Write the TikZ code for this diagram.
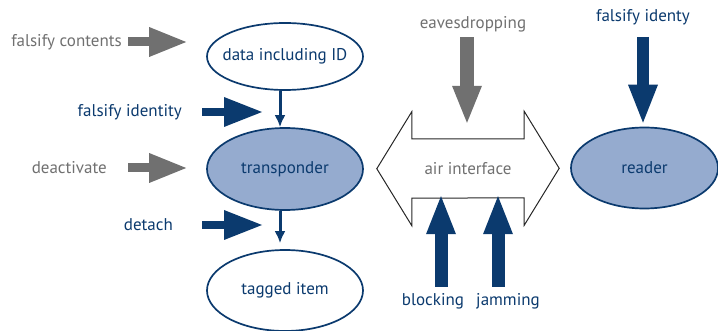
\documentclass[tikz,border=0pt]{standalone}
\usepackage{fontspec}
\setmainfont{PT Sans}
\usetikzlibrary{shapes}
\usetikzlibrary{positioning}
\usetikzlibrary{arrows.meta}
\definecolor{navy}{HTML}{0B3A6E}
\definecolor{greyc}{HTML}{707070}
\definecolor{fillb}{HTML}{95ABCF}
\tikzset{
    mynode/.style = {ellipse, line width=1.7pt, draw=navy, fill=white, text=navy, inner xsep=-20pt, minimum width=156pt, minimum height=67pt},
    mynodeb/.style = {mynode, fill=fillb, minimum height=82pt},
    txtg/.style = {text=greyc, inner sep=0pt},
    txtb/.style = {text=navy, inner sep=0pt},
    edgen/.style = {-{Latex[length=12pt,width=11pt]}, line width=3pt, navy},
    edgeg/.style = {-{Triangle[length=37pt,width=30pt,line width=0pt]}, line width=9pt, greyc}, % grey attack
    edgeb/.style = {-{Triangle[length=38pt,width=30pt,line width=0pt]}, line width=8pt, navy}, % blue attack
}

\begin{document}
\begin{tikzpicture}[x=1pt,y=-1pt,font=\fontsize{17pt}{20pt}\selectfont]
\useasboundingbox (0,0) rectangle (718,331);
\node[mynode] at (285,56.5) (data) {data including ID};
\node[mynodeb] at (285,169) (trans) {transponder};
\node[mynode, minimum height=81pt] at (285,290.5) (item) {tagged item};
\node[mynodeb, minimum width=147pt, minimum height=81pt] at (644.5,168) (reader) {reader};
\node[minimum width=112pt, minimum height=59pt, text=greyc] at (468,168.5) (air) {air interface};
%
\node[txtg, anchor=east] at (122,42) (fc) {falsify contents};
\node[txtb, anchor=east] at (182,112) (fi) {falsify identity};
\node[txtg, anchor=east] at (107,168) (de) {deactivate};
\node[txtb, anchor=east] at (173,225) (dt) {detach};
\node[txtg] at (473,24) (eav) {eavesdropping};
\node[txtb] at (643,17) (fid) {falsify identy};
\node[txtb] at (433,301) (blk) {blocking};
\node[txtb] at (508,301) (jam) {jamming};
%
\draw[line width=1pt, draw=black!85] (air.north west) -- (air.north east) -- ++(0,-27.5) -- ++(35,57) -- ++(-35,57) -- ++(0,-27.5)
  -- (air.south west) -- ++(0,27.5) -- ++(-35,-57) -- ++(35,-57) -- cycle;
%
\draw[edgen] ([xshift=-5pt]data.south) -- ([xshift=-5pt]trans.north);
\draw[edgen] ([xshift=-5pt]trans.south) -- ([xshift=-5pt,yshift=6pt]item.north);
\draw[edgeg, shorten <=6pt, shorten >=20pt] (fc.east) -- (fc.east -| data.west);
\draw[edgeb, shorten <=20pt, shorten >=23pt] (fi.east) -- (fi.east -| data.south);
\draw[edgeg, shorten <=21pt, shorten >=20pt] (de.east) -- (de.east -| trans.west);
\draw[edgeb, shorten <=29pt, shorten >=23pt] (dt.east) -- (dt.east -| trans.south);
\draw[edgeg, line width=14pt, shorten <=5pt, shorten >=16pt] ([xshift=-6pt]eav.south) -- ([xshift=-6pt]eav.south |- air.north);
\draw[edgeb, line width=12pt, shorten <=12pt, shorten >=4pt] (fid.south) -- (fid.south |- reader.north);
\draw[edgeb, line width=13pt, shorten <=6pt, shorten >=-2pt] ([xshift=8pt]blk.north) -- ([xshift=8pt]blk.north |- air.south);
\draw[edgeb, line width=13pt, shorten <=6pt, shorten >=-2pt] ([xshift=-10pt]jam.north) -- ([xshift=-10pt]jam.north |- air.south);
\end{tikzpicture}
\end{document}
